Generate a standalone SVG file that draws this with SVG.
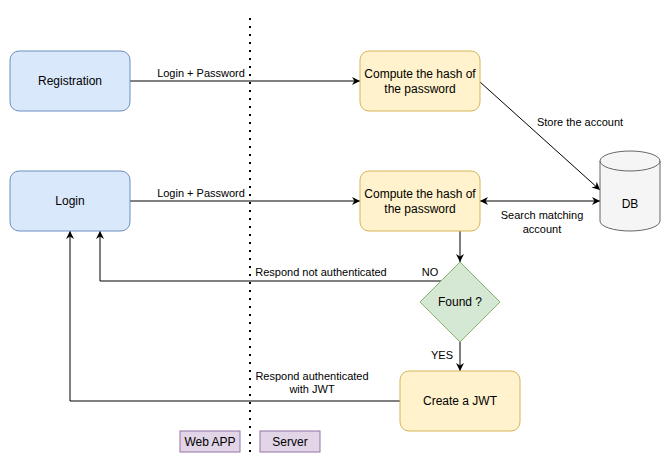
<svg xmlns="http://www.w3.org/2000/svg" width="671" height="463" viewBox="0 0 671 463">
<style>
text{font-family:"Liberation Sans",Arial,sans-serif;fill:#000}
.n{font-size:12px;text-anchor:middle}
.l{font-size:11px;text-anchor:middle}
.blue{fill:#dae8fc;stroke:#6c8ebf}
.yel{fill:#fff2cc;stroke:#d6b656}
.grn{fill:#d5e8d4;stroke:#82b366}
.pur{fill:#e1d5e7;stroke:#9673a6}
.c{fill:none;stroke:#000;stroke-width:1}
</style>
<defs>
<marker id="a" viewBox="0 0 10 10" refX="10" refY="5" markerWidth="8" markerHeight="8" markerUnits="userSpaceOnUse" orient="auto-start-reverse">
<path d="M0,0 L10,5 L0,10 L3,5 Z" fill="#000"/>
</marker>
</defs>
<g id="divider"><line x1="250" y1="18" x2="250" y2="452" stroke="#000" stroke-width="2" stroke-dasharray="2 6"/></g>
<g id="connectors">
<path class="c" d="M130,81 H360" marker-end="url(#a)"/>
<path class="c" d="M130,201 H360" marker-end="url(#a)"/>
<path class="c" d="M480,82 L600,190" marker-end="url(#a)"/>
<path class="c" d="M480,201 H600" marker-start="url(#a)" marker-end="url(#a)"/>
<path class="c" d="M460,231 V262" marker-end="url(#a)"/>
<path class="c" d="M460,342 V371" marker-end="url(#a)"/>
<path class="c" d="M441,281 H100 V231" marker-end="url(#a)"/>
<path class="c" d="M400,401 H70 V231" marker-end="url(#a)"/>
<text class="l" x="201" y="77">Login + Password</text>
<text class="l" x="201" y="197">Login + Password</text>
<text class="l" x="580" y="126">Store the account</text>
<text class="l" x="542" y="219">Search matching</text>
<text class="l" x="542" y="233">account</text>
<text class="l" x="321" y="276">Respond not authenticated</text>
<text class="l" x="430" y="276">NO</text>
<text class="l" x="442" y="359">YES</text>
<text class="l" x="312" y="380">Respond authenticated</text>
<text class="l" x="312" y="393">with JWT</text>
</g>
<g id="registration"><rect class="blue" x="10" y="51" width="120" height="60" rx="9"/><text class="n" x="70" y="85">Registration</text></g>
<g id="login"><rect class="blue" x="10" y="171" width="120" height="60" rx="9"/><text class="n" x="70" y="205">Login</text></g>
<g id="hash1"><rect class="yel" x="360" y="51" width="120" height="60" rx="9"/><text class="n" x="420" y="78">Compute the hash of</text><text class="n" x="420" y="93">the password</text></g>
<g id="hash2"><rect class="yel" x="360" y="171" width="120" height="60" rx="9"/><text class="n" x="420" y="198">Compute the hash of</text><text class="n" x="420" y="213">the password</text></g>
<g id="db"><path d="M600,161 A30,10 0 0 1 660,161 V221 A30,10 0 0 1 600,221 Z" fill="#f5f5f5" stroke="#666666"/><path d="M600,161 A30,10 0 0 0 660,161" fill="none" stroke="#666666"/><text class="n" x="630" y="208">DB</text></g>
<g id="found"><path class="grn" d="M460,262 L500,302 L460,342 L420,302 Z"/><text class="n" x="460" y="306">Found ?</text></g>
<g id="jwt"><rect class="yel" x="400" y="371" width="120" height="60" rx="9"/><text class="n" x="460" y="405">Create a JWT</text></g>
<g id="webapp"><rect class="pur" x="180" y="431" width="60" height="21"/><text class="n" x="210" y="446">Web APP</text></g>
<g id="server"><rect class="pur" x="260" y="431" width="60" height="21"/><text class="n" x="290" y="446">Server</text></g>
</svg>
